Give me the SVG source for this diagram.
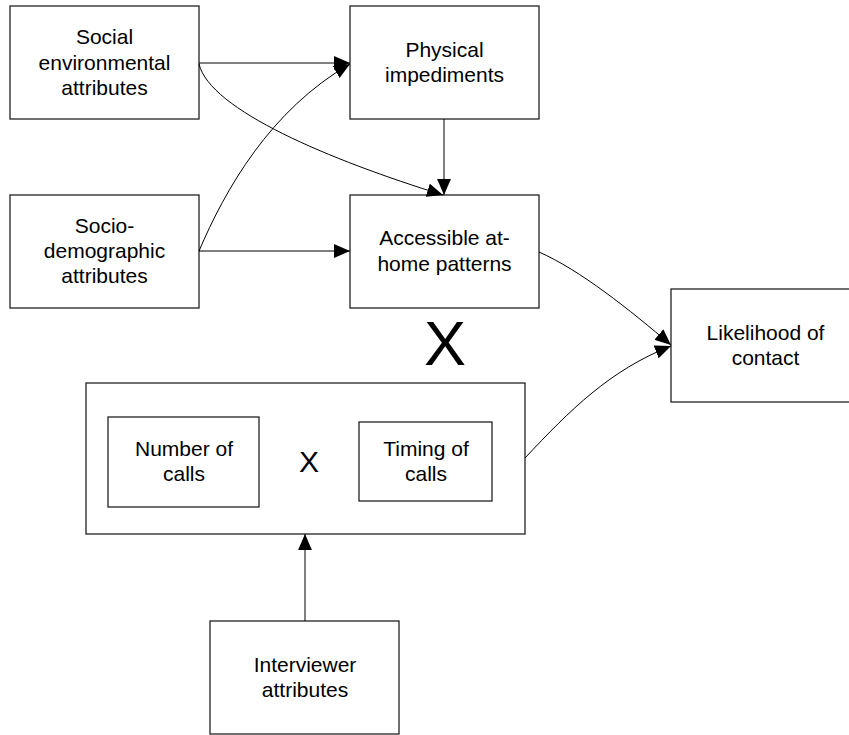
<svg xmlns="http://www.w3.org/2000/svg" width="849" height="735" viewBox="0 0 849 735">
<style>
.box{fill:#fff;stroke:#222;stroke-width:1.3}
.t{font-family:"Liberation Sans",Arial,sans-serif;font-size:21px;fill:#000;text-anchor:middle}
.c{fill:none;stroke:#000;stroke-width:1}
</style>
<defs>
<marker id="ah" markerUnits="userSpaceOnUse" markerWidth="16" markerHeight="14" viewBox="0 0 15 13" refX="15" refY="6.5" orient="auto">
<path d="M0,0 L15,6.5 L0,13 Z" fill="#000"/>
</marker>
</defs>
<rect width="849" height="735" fill="#fff"/>
<g id="social-env">
<rect class="box" x="10" y="6" width="189" height="113"/>
<text class="t" x="104.5" y="44">Social</text>
<text class="t" x="104.5" y="70">environmental</text>
<text class="t" x="104.5" y="95">attributes</text>
</g>
<g id="physical">
<rect class="box" x="350" y="6" width="189" height="113"/>
<text class="t" x="444.5" y="57">Physical</text>
<text class="t" x="444.5" y="82">impediments</text>
</g>
<g id="socio-demo">
<rect class="box" x="10" y="195" width="189" height="113"/>
<text class="t" x="104.5" y="233">Socio-</text>
<text class="t" x="104.5" y="258">demographic</text>
<text class="t" x="104.5" y="283">attributes</text>
</g>
<g id="accessible">
<rect class="box" x="350" y="195" width="189" height="113"/>
<text class="t" x="444.5" y="245">Accessible at-</text>
<text class="t" x="444.5" y="271">home patterns</text>
</g>
<g id="likelihood">
<rect class="box" x="671" y="289" width="189" height="113"/>
<text class="t" x="765.5" y="340">Likelihood of</text>
<text class="t" x="765.5" y="365">contact</text>
</g>
<text id="big-x" class="t" x="445" y="365" style="font-size:63px">X</text>
<g id="calls-group">
<rect class="box" x="86" y="383" width="439" height="151"/>
<g id="number-calls">
<rect class="box" x="108" y="417" width="151" height="90"/>
<text class="t" x="184" y="456">Number of</text>
<text class="t" x="184" y="481">calls</text>
</g>
<text id="small-x" class="t" x="309" y="472" style="font-size:30px">X</text>
<g id="timing-calls">
<rect class="box" x="359" y="422" width="133" height="79"/>
<text class="t" x="426" y="456">Timing of</text>
<text class="t" x="426" y="481">calls</text>
</g>
</g>
<g id="interviewer">
<rect class="box" x="210" y="621" width="189" height="113"/>
<text class="t" x="305" y="672">Interviewer</text>
<text class="t" x="305" y="697">attributes</text>
</g>
<g id="connectors">
<path class="c" d="M199,63 L350,63" marker-end="url(#ah)"/>
<path class="c" d="M199,64 C210,110 330,160 443,195" marker-end="url(#ah)"/>
<path class="c" d="M199,251 C225,190 270,110 350,64" marker-end="url(#ah)"/>
<path class="c" d="M199,251 L350,251" marker-end="url(#ah)"/>
<path class="c" d="M444,119 L444,195" marker-end="url(#ah)"/>
<path class="c" d="M539,252 C580,270 630,310 671,345" marker-end="url(#ah)"/>
<path class="c" d="M525,458 C570,410 610,370 671,346" marker-end="url(#ah)"/>
<path class="c" d="M305,621 L305,534" marker-end="url(#ah)"/>
</g>
</svg>
